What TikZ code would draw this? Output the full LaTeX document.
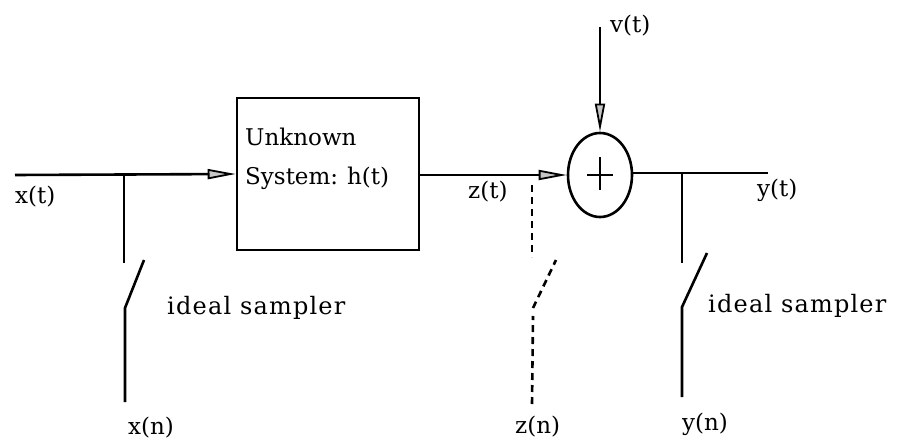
\documentclass[tikz,border=0pt]{standalone}
\usepackage{fontspec}
\setmainfont{DejaVu Serif}
\newfontfamily\samplerfont[LetterSpace=5]{DejaVu Serif}
\usetikzlibrary{arrows.meta,shapes.geometric}
\tikzset{
  wire/.style={line width=2.6pt},
  dwire/.style={line width=2.6pt,dash pattern=on 7pt off 5pt},
  sig/.style={wire,-{Triangle[open,length=28pt,width=10pt,fill=gray!45,line width=1.8pt]}},
  lbl/.style={inner sep=0pt,anchor=base west,font=\fontsize{23}{28}\selectfont},
  slbl/.style={inner sep=0pt,anchor=base west,font=\samplerfont\fontsize{24}{28}\selectfont},
  block/.style={draw,line width=2.6pt,minimum width=182pt,minimum height=152pt,inner sep=0pt},
  adder/.style={draw,ellipse,line width=2.6pt,minimum width=64pt,minimum height=84pt,inner sep=0pt}
}
\begin{document}
\begin{tikzpicture}[x=1pt,y=-1pt]
\useasboundingbox (0,0) rectangle (899,441);
% blocks
\node[block] (sys) at (328,174) {};
\node[adder] (sum) at (600,175) {};
\draw[wire] ([xshift=-13pt]sum.center) -- ([xshift=13pt]sum.center);
\draw[wire] ([yshift=-15pt]sum.center) -- ([yshift=18pt]sum.center);
% coordinates
\coordinate (xin) at (15,175);
\coordinate (tapx) at (124,175);
\coordinate (tapxb) at (124,263);
\coordinate (swxa) at (125,402);
\coordinate (swxb) at (125,308);
\coordinate (swxc) at (144,260);
\coordinate (vin) at (600,27);
\coordinate (yout) at (768,173);
\coordinate (tapy) at (682,173);
\coordinate (tapyb) at (682,263);
\coordinate (swya) at (682,397);
\coordinate (swyb) at (682,307);
\coordinate (swyc) at (707,253);
\coordinate (tapz) at (532,185);
\coordinate (tapzb) at (532,257);
\coordinate (swza) at (532,404);
\coordinate (swzb) at (533,316);
\coordinate (swzc) at (533,308);
\coordinate (swzd) at (556,260);
% signal lines
\draw[sig] (xin) -- (sys.west);
\draw[sig] (sys.east |- sum.west) -- (sum.west);
\draw[sig] (vin) -- (sum.north);
\draw[wire] (sum.east |- yout) -- (yout);
% samplers
\draw[wire] (tapx) -- (tapxb);
\draw[wire] (swxa) -- (swxb) -- (swxc);
\draw[wire] (tapy) -- (tapyb);
\draw[wire] (swya) -- (swyb) -- (swyc);
\draw[dwire] (tapz) -- (tapzb);
\draw[dwire] (swzc) -- (swzd);
\draw[dwire] (swza) -- (swzb);
% labels
\node[lbl] (l1) at (245,146) {Unknown};
\node[lbl] (l2) at (245,184) {System:\hspace{9pt}h(t)};
\node[lbl] (lx) at (15,203) {x(t)};
\node[lbl] (lz) at (468,198) {z(t)};
\node[lbl] (lv) at (610,33) {v(t)};
\node[lbl] (ly) at (757,196) {y(t)};
\node[slbl] (s1) at (167,314) {ideal sampler};
\node[slbl] (s2) at (708,312) {ideal sampler};
\node[lbl] (lxn) at (128,434) {x(n)};
\node[lbl] (lzn) at (515,433) {z(n)};
\node[lbl] (lyn) at (682,430) {y(n)};
\end{tikzpicture}
\end{document}
